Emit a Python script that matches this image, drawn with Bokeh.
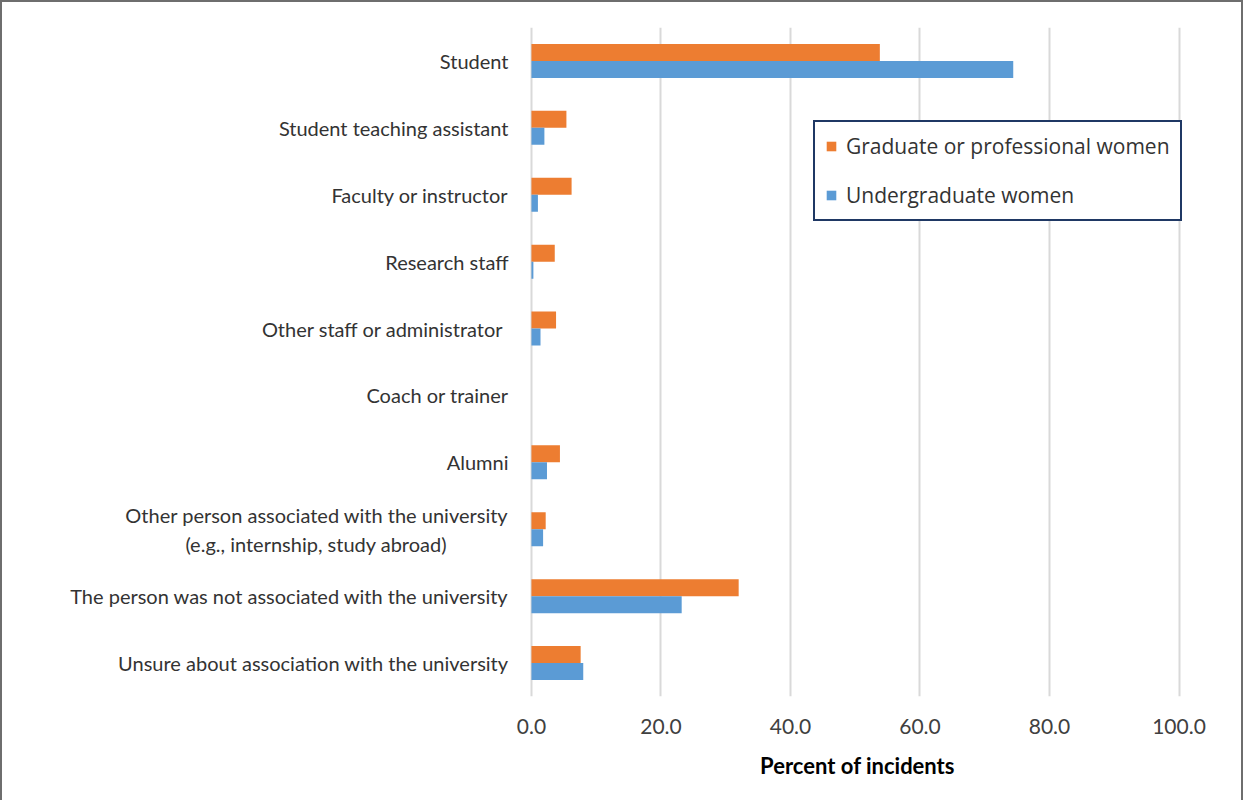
from bokeh.plotting import figure
from bokeh.models import ColumnDataSource, FactorRange, Legend, LegendItem, FixedTicker, CustomJSTickFormatter
from bokeh.transform import dodge
from bokeh.embed import file_html
from bokeh.resources import INLINE

NB = "\u00a0"
categories = [
    "Student",
    "Student teaching assistant",
    "Faculty or instructor",
    "Research staff",
    "Other staff or administrator" + NB,
    "Coach or trainer",
    "Alumni",
    "Other person associated with the university\n(e.g., internship, study abroad)" + NB * 12,
    "The person was not associated with the university",
    "Unsure about association with the university",
]
graduate = [53.8, 5.4, 6.2, 3.6, 3.8, 0.0, 4.4, 2.2, 32.0, 7.6]
undergraduate = [74.4, 2.0, 1.0, 0.3, 1.4, 0.0, 2.4, 1.8, 23.2, 8.0]
x_ticks = [0, 20, 40, 60, 80, 100]
series_names = ["Graduate or professional women", "Undergraduate women"]
series_colors = ["#ED7D31", "#5B9BD5"]

src = ColumnDataSource(dict(cat=categories, grad=graduate, ug=undergraduate))

FONT = "Lato"

p = figure(
    width=1243, height=800,
    y_range=FactorRange(factors=list(reversed(categories))),
    x_range=(-0.3, 101.0),
    output_backend="svg", toolbar_location=None,
    min_border_left=527, min_border_right=60, min_border_top=25, min_border_bottom=106,
)
p.styles = {"border-top": "2px solid #6e6e6e", "border-left": "2px solid #6e6e6e",
            "border-right": "2px solid #6e6e6e"}
p.outline_line_color = None

r1 = p.hbar(y=dodge("cat", 0.127, range=p.y_range), right="grad", left=0, height=0.254,
            source=src, fill_color=series_colors[0], line_color=None)
r2 = p.hbar(y=dodge("cat", -0.127, range=p.y_range), right="ug", left=0, height=0.254,
            source=src, fill_color=series_colors[1], line_color=None)

# axes
p.xaxis.ticker = FixedTicker(ticks=x_ticks)
p.xaxis.formatter = CustomJSTickFormatter(code="return tick.toFixed(1);")
p.xaxis.axis_line_color = None
p.xaxis.major_tick_line_color = None
p.xaxis.minor_tick_line_color = None
p.xaxis.major_label_text_font = FONT
p.xaxis.major_label_text_font_size = "21px"
p.xaxis.major_label_text_color = "#404040"
p.xaxis.major_label_standoff = 16
p.xaxis.axis_label = "Percent of incidents"
p.xaxis.axis_label_text_font = FONT
p.xaxis.axis_label_text_font_style = "bold"
p.xaxis.axis_label_text_font_size = "22px"
p.xaxis.axis_label_text_color = "#000000"
p.xaxis.axis_label_standoff = 15

p.yaxis.axis_line_color = None
p.yaxis.major_tick_line_color = None
p.yaxis.minor_tick_line_color = None
p.yaxis.major_label_text_font = FONT
p.yaxis.major_label_text_font_size = "20px"
p.yaxis.major_label_text_color = "#333333"
p.yaxis.major_label_standoff = 15

p.xgrid.grid_line_color = "#d9d9d9"
p.xgrid.grid_line_width = 2
p.ygrid.grid_line_color = None

legend = Legend(
    items=[LegendItem(label=series_names[0], renderers=[r1]),
           LegendItem(label=series_names[1], renderers=[r2])],
    location=(284, 475),
    label_text_font="Open Sans", label_text_font_size="21px", label_text_color="#333333",
    label_height=24, glyph_height=12, glyph_width=12, spacing=21, padding=10,
    label_standoff=9, margin=0,
    border_line_color="#1F3864", border_line_width=2, border_line_alpha=1.0,
    background_fill_alpha=1.0,
)
p.add_layout(legend, "center")

open("out.html", "w").write(file_html(p, INLINE))
